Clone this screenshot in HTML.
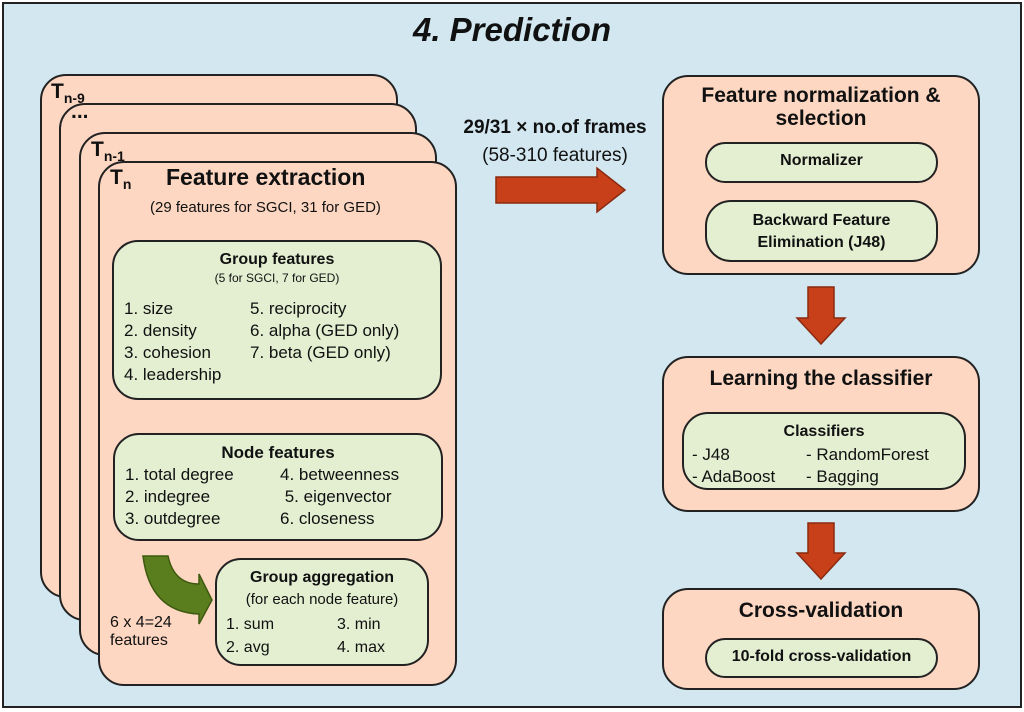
<!DOCTYPE html>
<html><head><style>
body{margin:0;width:1024px;height:712px;overflow:hidden;background:#fff;font-family:"Liberation Sans",sans-serif;}
#f{position:absolute;left:2px;top:2px;width:1016px;height:702px;background:#d2e7f0;border:2px solid #222;}
.b{position:absolute;box-sizing:border-box;border:2px solid #222;border-radius:26px;}
.p{background:#fdd7c2;}
.g{background:#e4efd2;}
.t{position:absolute;color:#111;white-space:nowrap;}
.bold{font-weight:bold;}
</style></head><body>
<div id="f"></div>
<div class="t bold" style="left:0;width:1024px;text-align:center;top:11px;font-size:33px;font-style:italic;">4. Prediction</div>

<div class="b p" style="left:40px;top:74px;width:358px;height:524px;"></div>
<div class="t bold" style="left:51px;top:80px;font-size:21px;">T<sub style="font-size:14px">n-9</sub></div>
<div class="b p" style="left:59px;top:103px;width:358px;height:518px;"></div>
<div class="t bold" style="left:71px;top:100px;font-size:21px;">...</div>
<div class="b p" style="left:79px;top:132px;width:358px;height:524px;"></div>
<div class="t bold" style="left:91px;top:138px;font-size:21px;">T<sub style="font-size:14px">n-1</sub></div>
<div class="b p" style="left:98px;top:161px;width:359px;height:525px;"></div>
<div class="t bold" style="left:110px;top:166px;font-size:21px;">T<sub style="font-size:14px">n</sub></div>
<div class="t bold" style="left:166px;top:164px;font-size:23px;">Feature extraction</div>
<div class="t" style="left:150px;top:199px;font-size:15px;">(29 features for SGCI, 31 for GED)</div>

<div class="b g" style="left:112px;top:240px;width:330px;height:160px;"></div>
<div class="t bold" style="left:112px;width:330px;text-align:center;top:251px;font-size:16px;">Group features</div>
<div class="t" style="left:112px;width:330px;text-align:center;top:271px;font-size:12px;">(5 for SGCI, 7 for GED)</div>
<div class="t" style="left:124px;top:298px;font-size:17px;line-height:22px;">1. size<br>2. density<br>3. cohesion<br>4. leadership</div>
<div class="t" style="left:250px;top:298px;font-size:17px;line-height:22px;">5. reciprocity<br>6. alpha (GED only)<br>7. beta (GED only)</div>

<div class="b g" style="left:113px;top:433px;width:330px;height:108px;"></div>
<div class="t bold" style="left:113px;width:330px;text-align:center;top:443px;font-size:17px;">Node features</div>
<div class="t" style="left:125px;top:464px;font-size:17px;line-height:22px;">1. total degree<br>2. indegree<br>3. outdegree</div>
<div class="t" style="left:280px;top:464px;font-size:17px;line-height:22px;">4. betweenness<br>&nbsp;5. eigenvector<br>6. closeness</div>

<svg style="position:absolute;left:0;top:0" width="1024" height="712">
<path d="M143 556 L168 556 Q174 584 199 584 L199 574 L212 600 L199 624 L199 614 Q150 612 143 556 Z" fill="#5a7d1e" stroke="#3f5a10" stroke-width="1.5"/>
<path d="M496 177 L597 177 L597 168 L625 190 L597 212 L597 203 L496 203 Z" fill="#c8401a" stroke="#8a2a10" stroke-width="1.5"/>
<path d="M808 287 L834 287 L834 318 L845 318 L821 344 L797 318 L808 318 Z" fill="#c8401a" stroke="#8a2a10" stroke-width="1.5"/>
<path d="M808 523 L834 523 L834 553 L845 553 L821 579 L797 553 L808 553 Z" fill="#c8401a" stroke="#8a2a10" stroke-width="1.5"/>
</svg>
<div class="t" style="left:110px;top:614px;font-size:16px;line-height:18px;">6 x 4=24<br>features</div>

<div class="b g" style="left:215px;top:558px;width:214px;height:108px;"></div>
<div class="t bold" style="left:215px;width:214px;text-align:center;top:569px;font-size:16px;">Group aggregation</div>
<div class="t" style="left:215px;width:214px;text-align:center;top:591px;font-size:15px;">(for each node feature)</div>
<div class="t" style="left:226px;top:613px;font-size:16px;line-height:23px;">1. sum<br>2. avg</div>
<div class="t" style="left:337px;top:613px;font-size:16px;line-height:23px;">3. min<br>4. max</div>

<div class="t bold" style="left:430px;top:117px;width:250px;text-align:center;font-size:19px;">29/31 × no.of frames</div>
<div class="t" style="left:430px;top:145px;width:250px;text-align:center;font-size:19px;">(58-310 features)</div>

<div class="b p" style="left:662px;top:75px;width:318px;height:200px;"></div>
<div class="t bold" style="left:662px;width:318px;text-align:center;top:84px;font-size:21px;line-height:23px;">Feature normalization &amp;<br>selection</div>
<div class="b g" style="left:705px;top:142px;width:233px;height:41px;border-radius:20px;"></div>
<div class="t bold" style="left:705px;width:233px;text-align:center;top:152px;font-size:16px;">Normalizer</div>
<div class="b g" style="left:705px;top:200px;width:233px;height:62px;"></div>
<div class="t bold" style="left:705px;width:233px;text-align:center;top:210px;font-size:16px;line-height:22px;">Backward Feature<br>Elimination (J48)</div>

<div class="b p" style="left:662px;top:356px;width:318px;height:156px;"></div>
<div class="t bold" style="left:662px;width:318px;text-align:center;top:367px;font-size:21px;">Learning the classifier</div>
<div class="b g" style="left:682px;top:412px;width:284px;height:78px;"></div>
<div class="t bold" style="left:682px;width:284px;text-align:center;top:423px;font-size:16px;">Classifiers</div>
<div class="t" style="left:692px;top:444px;font-size:17px;line-height:22px;">- J48<br>- AdaBoost</div>
<div class="t" style="left:806px;top:444px;font-size:17px;line-height:22px;">- RandomForest<br>- Bagging</div>

<div class="b p" style="left:662px;top:588px;width:318px;height:102px;"></div>
<div class="t bold" style="left:662px;width:318px;text-align:center;top:599px;font-size:21px;">Cross-validation</div>
<div class="b g" style="left:705px;top:638px;width:233px;height:40px;border-radius:20px;"></div>
<div class="t bold" style="left:705px;width:233px;text-align:center;top:648px;font-size:16px;">10-fold cross-validation</div>
</body></html>
